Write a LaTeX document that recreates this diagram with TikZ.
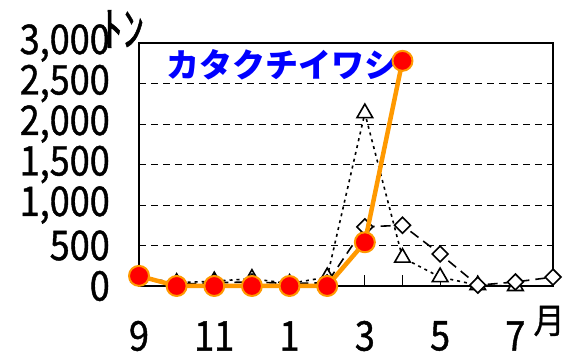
\documentclass[tikz,border=0pt]{standalone}
\usepackage{fontspec}
\setmainfont{Noto Sans CJK JP}
\newfontfamily\chartfont[FakeStretch=0.88,FakeBold=1]{Noto Sans CJK JP}
\usepackage{xcolor}
\usetikzlibrary{plotmarks}
\definecolor{catchorange}{RGB}{255,153,0}
\definecolor{titleblue}{RGB}{0,0,255}

\begin{document}
\begin{tikzpicture}[x=1pt,y=1pt]
\tikzset{GridStyle/.style={dash pattern=on 7pt off 5pt, line width=0.9pt},
  LabelStyle/.style={font=\chartfont\fontsize{41}{43}\selectfont, inner sep=0pt},
  TriSeries/.style={dash pattern=on 3pt off 4pt, line width=1.6pt,
    mark=triangle*, mark size=9pt, mark options={solid, fill=white, line width=1.6pt}},
  DiaSeries/.style={dash pattern=on 10pt off 6pt, line width=1.6pt,
    mark=square*, mark size=5.6pt, mark options={solid, rotate=45, fill=white, line width=1.6pt}},
  MainSeries/.style={catchorange, line width=4.5pt, line join=round,
    mark=*, mark size=10pt, mark options={fill=red, draw=catchorange, line width=2pt}}}
\useasboundingbox (0,0) rectangle (565,356);
\node[font=\fontsize{33}{35}\selectfont\bfseries, text=titleblue, inner sep=0pt] (title) at (282,291) {カタクチイワシ};
\node[font=\chartfont\fontsize{48}{50}\selectfont, inner sep=0pt] (unit) at (123,327) {ﾄﾝ};
\node[font=\chartfont\fontsize{35}{37}\selectfont, inner sep=0pt] (month) at (549,35) {月};
\begin{scope}[shift={(139,70)}, x=37.64pt, y=0.081pt]
% grid and axes
\foreach \v in {500,1000,...,2500}
  \draw[GridStyle] (0,\v) -- (11,\v);
\draw[line width=2pt] (0,0) rectangle (11,3000);
\foreach \m in {0,...,11}
  \draw[line width=1.2pt] (\m,0) -- ++(0pt,11pt);
\foreach \v/\t in {0/0,500/500,1000/{1,000},1500/{1,500},2000/{2,000},2500/{2,500},3000/{3,000}}
  \node[LabelStyle, anchor=east] (ylab\v) at ([xshift=-29pt]0,\v) {\t};
\foreach \m/\t in {0/9,2/11,4/1,6/3,8/5,10/7}
  \node[LabelStyle] (xlab\m) at ([yshift=-50pt]\m,0) {\t};
% series
\draw[TriSeries] plot coordinates {(0,110) (1,40) (2,60) (3,90) (4,30) (5,110) (6,2135) (7,350) (8,110) (9,10) (10,0)};
\draw[DiaSeries] plot coordinates {(0,100) (1,20) (2,40) (3,50) (4,30) (5,40) (6,730) (7,750) (8,395) (9,10) (10,50) (11,110)};
\draw[MainSeries] plot coordinates {(0,125) (1,0) (2,0) (3,0) (4,0) (5,0) (6,540) (7,2780)};
\end{scope}
\end{tikzpicture}
\end{document}
